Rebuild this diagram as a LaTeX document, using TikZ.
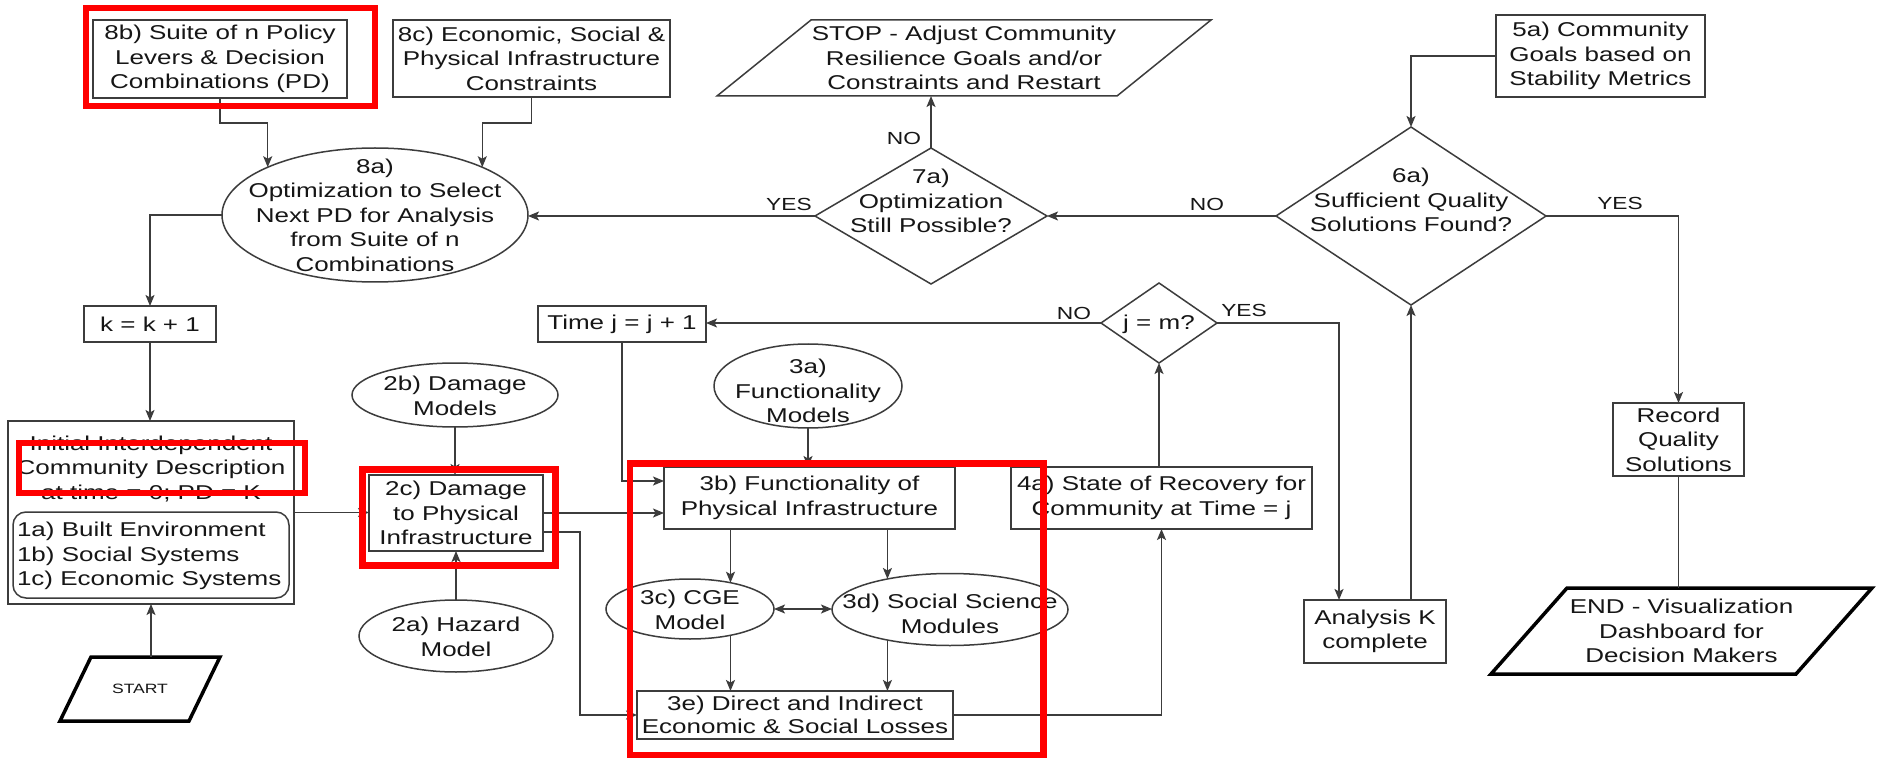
\documentclass[tikz,border=0pt]{standalone}
\usepackage{fontspec}
\setmainfont{Liberation Sans}[FakeStretch=1.3]
\usetikzlibrary{arrows.meta,shapes.geometric,calc}

\definecolor{ink}{RGB}{22,22,22}
\definecolor{wire}{RGB}{60,60,60}
\definecolor{hilite}{RGB}{255,0,0}

\begin{document}
\begin{tikzpicture}[x=1pt,y=-1pt,
  every node/.style={inner sep=0pt, outer sep=0pt, text=ink},
  txt/.style={font=\fontsize{20}{24.5}\selectfont, align=center},
  boxn/.style={txt, draw=wire, line width=1.5pt, rectangle},
  elln/.style={draw=wire, line width=1.5pt, ellipse},
  dian/.style={draw=wire, line width=1.5pt, diamond},
  lbl/.style={font=\fontsize{17.5}{20}\selectfont},
  link/.style={draw=wire, line width=1.5pt},
  arr/.style={link, -{Stealth[length=11pt,width=9pt,inset=2.5pt]}},
  arrboth/.style={link, {Stealth[length=11pt,width=9pt,inset=2.5pt]}-{Stealth[length=11pt,width=9pt,inset=2.5pt]}},
  pgram/.style={draw=black, line width=3.5pt, line join=miter},
  hl/.style={draw=hilite, line width=6.5pt}
]
\fill[white] (0,0) rectangle (1877,759);
\useasboundingbox (0,0) rectangle (1877,759);

% ---------- top row ----------
\node[boxn, minimum width=254pt, minimum height=78pt] (b8) at (220,59)
  {8b) Suite of n Policy\\Levers \& Decision\\Combinations (PD)};
\node[boxn, minimum width=277pt, minimum height=77pt] (c8) at (531.5,58.5)
  {8c) Economic, Social \&\\Physical Infrastructure\\Constraints};
\node[txt, minimum width=400pt, minimum height=76pt] (stop) at (964,58)
  {STOP - Adjust Community\\Resilience Goals and/or\\Constraints and Restart};
\draw[link] ([xshift=-47pt]stop.south west) -- ([xshift=47pt]stop.north west)
  -- ([xshift=47pt]stop.north east) -- ([xshift=-47pt]stop.south east) -- cycle;
\node[boxn, minimum width=209pt, minimum height=82pt] (a5) at (1600.5,56)
  {5a) Community\\Goals based on\\Stability Metrics};

% ---------- optimisation loop ----------
\node[elln, minimum width=306pt, minimum height=134pt] (e8a) at (375,215) {};
\node[txt] (e8a-t) at (375,215)
  {8a)\\Optimization to Select\\Next PD for Analysis\\from Suite of n\\Combinations};
\node[dian, minimum width=232pt, minimum height=136pt] (d7) at (931,216) {};
\node[txt] (d7-t) at (931,201) {7a)\\Optimization\\Still Possible?};
\node[dian, minimum width=270pt, minimum height=178pt] (d6) at (1411,216) {};
\node[txt] (d6-t) at (1411,200) {6a)\\Sufficient Quality\\Solutions Found?};

\node[boxn, minimum width=132pt, minimum height=36pt] (k) at (150,324) {k = k + 1};
\node[boxn, minimum width=168pt, minimum height=36pt] (tj) at (622,324) {Time j = j + 1};
\node[dian, minimum width=116pt, minimum height=80pt] (jm) at (1159,323) {};
\node[txt] (jm-t) at (1159,324) {j = m?};

% ---------- models ----------
\node[elln, minimum width=206pt, minimum height=64pt] (e2b) at (455,395) {};
\node[txt] (e2b-t) at (455,396) {2b) Damage\\Models};
\node[elln, minimum width=188pt, minimum height=84pt] (e3a) at (808,386) {};
\node[txt] (e3a-t) at (808,391) {3a)\\Functionality\\Models};

% ---------- community description ----------
\node[draw=wire, line width=1.5pt, minimum width=286pt, minimum height=183pt] (init) at (151,512.5) {};
\node[txt] (init-t) at (151,469)
  {Initial Interdependent\\Community Description\\at time = 0; PD = K};
\node[draw=wire, line width=1.5pt, rounded corners=13pt, minimum width=276pt, minimum height=86pt] (sys) at (151,555) {};
\node[txt, align=left, anchor=west] (sys-t) at (17,556)
  {1a) Built Environment\\1b) Social Systems\\1c) Economic Systems};

\node[boxn, minimum width=174pt, minimum height=76pt] (c2) at (456,513)
  {2c) Damage\\to Physical\\Infrastructure};
\node[elln, minimum width=194pt, minimum height=72pt] (e2a) at (456,636) {};
\node[txt] (e2a-t) at (456,637) {2a) Hazard\\Model};

% ---------- functionality and losses ----------
\node[boxn, minimum width=291pt, minimum height=62pt] (b3) at (809.5,498)
  {3b) Functionality of\\Physical Infrastructure};
\node[boxn, minimum width=301pt, minimum height=62pt] (a4) at (1161.5,498)
  {4a) State of Recovery for\\Community at Time = j};
\node[elln, minimum width=168pt, minimum height=60pt] (c3) at (690,609) {};
\node[txt] (c3-t) at (690,610) {3c) CGE\\Model};
\node[elln, minimum width=236pt, minimum height=72pt] (d3) at (950,609.5) {};
\node[txt] (d3-t) at (950,614) {3d) Social Science\\Modules};
\node[boxn, minimum width=316pt, minimum height=48pt, font=\fontsize{20}{23}\selectfont] (e3) at (795,715)
  {3e) Direct and Indirect\\Economic \& Social Losses};

% ---------- results ----------
\node[boxn, minimum width=131pt, minimum height=73pt] (rec) at (1678.5,439.5) {Record\\Quality\\Solutions};
\node[boxn, minimum width=142pt, minimum height=63pt] (ak) at (1375,631.5) {Analysis K\\complete};

% ---------- terminals ----------
\node[minimum width=129pt, minimum height=64pt, font=\fontsize{13.5}{16}\selectfont] (start) at (140,689) {START};
\draw[pgram] ([xshift=-15.5pt]start.south west) -- ([xshift=15.5pt]start.north west)
  -- ([xshift=15.5pt]start.north east) -- ([xshift=-15.5pt]start.south east) -- cycle;
\node[txt, minimum width=305pt, minimum height=86pt] (fin) at (1681.5,631)
  {END - Visualization\\Dashboard for\\Decision Makers};
\draw[pgram] ([xshift=-38pt]fin.south west) -- ([xshift=38pt]fin.north west)
  -- ([xshift=38pt]fin.north east) -- ([xshift=-38pt]fin.south east) -- cycle;

% ---------- connectors ----------
\draw[arr] (b8.south) -- ++(0,25) -| (e8a.156);
\draw[arr] (c8.south) -- ++(0,26) -| (e8a.24);
\draw[arr] (e8a.west) -| (k.north);
\draw[arr] (k.south) -- (k.south |- init.north);
\draw[arr] (init.south |- start.north) -- (init.south);
\draw[arr] (init.east) -- (init.east -| c2.west);
\draw[arr] (e2b.south) -- (e2b.south |- c2.north);
\draw[arr] (e2a.north) -- (e2a.north |- c2.south);
\draw[arr] (c2.east) -- (c2.east -| b3.west);
\draw[arr] ([yshift=-19pt]c2.east) -- ++(37,0) |- (e3.west);
\draw[arr] (tj.south) |- ([yshift=17pt]b3.west);
\draw[arr] (e3a.south) -- (e3a.south |- b3.north);
\draw[arr] (c3.33 |- b3.south) -- (c3.33);
\draw[arr] (d3.154 |- b3.south) -- (d3.154);
\draw[arr] (c3.-33) -- (c3.-33 |- e3.north);
\draw[arr] (d3.-154) -- (d3.-154 |- e3.north);
\draw[arrboth] (c3.east) -- (c3.east -| d3.west);
\draw[arr] (e3.east) -| (a4.south);
\draw[arr] (jm.south |- a4.north) -- (jm.south);
\draw[arr] (jm.west) -- (jm.west -| tj.east);
\draw[arr] (jm.east) -| ([xshift=-36pt]ak.north);
\draw[arr] (d6.south |- ak.north) -- (d6.south);
\draw[arr] (a5.west) -| (d6.north);
\draw[arr] (d6.west) -- (d7.east);
\draw[arr] (d7.west) -- (d7.west -| e8a.east);
\draw[arr] (d7.north) -- (d7.north |- stop.south);
\draw[arr] (d6.east) -| (rec.north);
\draw[link] (rec.south) -- (rec.south |- fin.north);

% ---------- branch labels ----------
\node[lbl] (no7) at (904,138) {NO};
\node[lbl] (yes7) at (789,204) {YES};
\node[lbl] (no6) at (1207,204) {NO};
\node[lbl] (yes6) at (1620,203) {YES};
\node[lbl] (nojm) at (1074,313) {NO};
\node[lbl] (yesjm) at (1244,310) {YES};

% ---------- highlight frames ----------
\draw[hl] (86,8) rectangle (375,106);
\draw[hl] (19,443) rectangle (305,493);
\draw[hl] (362.5,469.5) rectangle (555.5,565.5);
\draw[hl] (630,463.5) rectangle (1043.5,755);
\end{tikzpicture}
\end{document}
